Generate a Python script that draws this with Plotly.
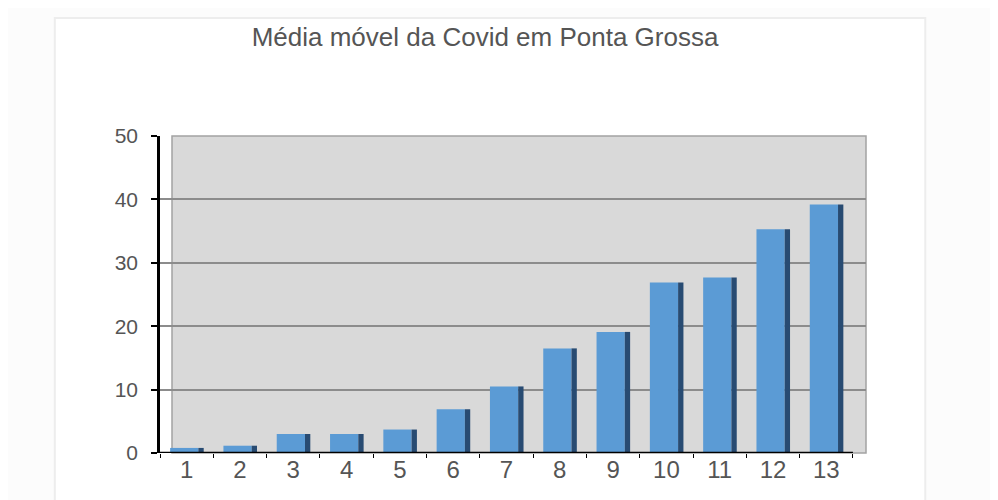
import plotly.graph_objects as go

# Daily moving average values
days = [1, 2, 3, 4, 5, 6, 7, 8, 9, 10, 11, 12, 13]
day_labels = ["1", "2", "3", "4", "5", "6", "7", "8", "9", "10", "11", "12", "13"]
media_movel = [0.8, 1.15, 3.0, 3.0, 3.7, 6.9, 10.5, 16.5, 19.1, 26.9, 27.7, 35.3, 39.2]
y_ticks = [0, 10, 20, 30, 40, 50]

front_color = "#5b9bd5"
side_color = "#284b72"
text_color = "#555555"

fig = go.Figure()

# Front face of each bar
fig.add_trace(
    go.Bar(
        x=days,
        y=media_movel,
        width=0.53,
        offset=-0.31,
        marker=dict(color=front_color, line=dict(width=0)),
        hoverinfo="skip",
    )
)

# Dark side face to fake the 3D look
fig.add_trace(
    go.Bar(
        x=days,
        y=media_movel,
        width=0.1,
        offset=0.22,
        marker=dict(color=side_color, line=dict(width=0)),
        hoverinfo="skip",
    )
)

shapes = [
    # white card with light border
    dict(
        type="rect",
        xref="paper",
        yref="paper",
        x0=-0.149,
        x1=1.084,
        y0=-0.2,
        y1=1.372,
        fillcolor="white",
        line=dict(color="#ededed", width=2),
        layer="below",
    ),
    # gray back wall
    dict(
        type="rect",
        xref="paper",
        yref="paper",
        x0=0.017,
        x1=1.0,
        y0=0.0,
        y1=1.0,
        fillcolor="#d9d9d9",
        line=dict(color="#a3a3a3", width=1.5),
        layer="below",
    ),
    # floor / x axis line
    dict(
        type="line",
        xref="x",
        yref="y",
        x0=0.5,
        x1=13.5,
        y0=0,
        y1=0,
        line=dict(color="black", width=2.5),
    ),
]

# the page body adds an 8px offset, so margins are trimmed to compensate
fig.update_layout(
    width=998,
    height=500,
    margin=dict(l=152, r=140, t=128, b=55),
    paper_bgcolor="#fcfcfc",
    plot_bgcolor="rgba(0,0,0,0)",
    barmode="overlay",
    showlegend=False,
    shapes=shapes,
    font=dict(family="Liberation Sans, Arial, sans-serif", color=text_color),
    title=dict(
        text="Média móvel da Covid em Ponta Grossa",
        xref="container",
        yref="container",
        x=0.478,
        y=0.942,
        xanchor="center",
        yanchor="middle",
        font=dict(size=26, color=text_color),
    ),
)

fig.update_xaxes(
    range=[0.5, 13.745],
    tickmode="array",
    tickvals=days,
    ticktext=day_labels,
    ticks="",
    tickfont=dict(size=24, color=text_color),
    showgrid=False,
    zeroline=False,
    showline=False,
    minor=dict(
        tick0=0.5,
        dtick=1,
        ticks="outside",
        ticklen=4,
        tickcolor="black",
        showgrid=False,
    ),
)

fig.update_yaxes(
    range=[0, 50],
    tickmode="array",
    tickvals=y_ticks,
    ticks="outside",
    ticklen=6,
    tickcolor="black",
    tickwidth=2,
    tickfont=dict(size=21, color=text_color),
    ticklabelstandoff=9,
    showgrid=True,
    gridcolor="#8c8c8c",
    gridwidth=1.5,
    zeroline=False,
    showline=True,
    linecolor="black",
    linewidth=2.5,
)

fig.write_html("out.html")
